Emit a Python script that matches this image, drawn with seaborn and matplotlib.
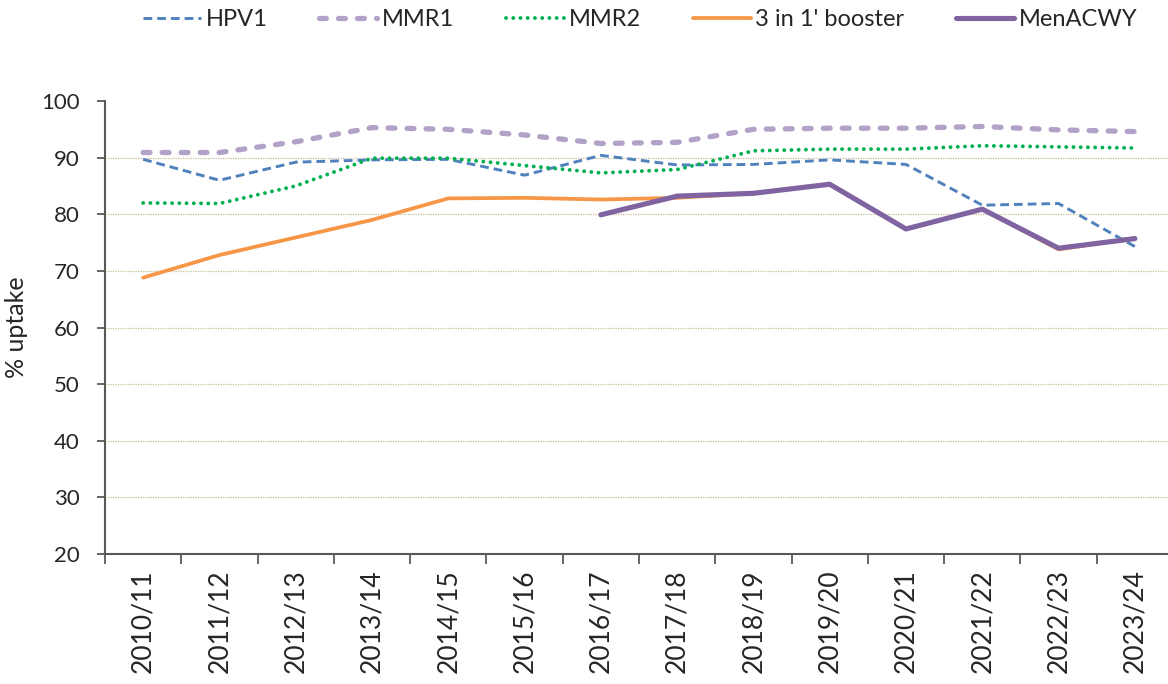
import numpy as np
import pandas as pd
import matplotlib
matplotlib.use("Agg")
import matplotlib.pyplot as plt
import seaborn as sns

years = ["2010/11", "2011/12", "2012/13", "2013/14", "2014/15", "2015/16", "2016/17",
         "2017/18", "2018/19", "2019/20", "2020/21", "2021/22", "2022/23", "2023/24"]
hpv1 = [89.7, 86.0, 89.2, 89.6, 89.7, 86.9, 90.4, 88.7, 88.8, 89.6, 88.8, 81.6, 81.9, 74.3]
mmr1 = [90.9, 90.9, 92.8, 95.3, 95.0, 94.0, 92.5, 92.7, 95.0, 95.2, 95.2, 95.5, 94.9, 94.6]
mmr2 = [82.0, 81.9, 85.0, 89.9, 89.9, 88.6, 87.3, 87.9, 91.2, 91.5, 91.5, 92.1, 91.9, 91.7]
booster = [68.8, 72.8, 75.9, 79.0, 82.8, 82.9, 82.6, 82.9, 83.7, 85.3, 77.4, 80.9, 73.8, 75.8]
menacwy = [np.nan, np.nan, np.nan, np.nan, np.nan, np.nan, 79.9, 83.2, 83.7, 85.3, 77.4, 80.9, 74.0, 75.7]
series_names = ["HPV1", "MMR1", "MMR2", "3 in 1' booster", "MenACWY"]
y_label = "% uptake"

sns.set_theme(style="white")
plt.rcParams["font.family"] = ["Lato", "DejaVu Sans"]

fig = plt.figure(figsize=(11.68, 6.84), dpi=100)
ax = fig.add_axes([105 / 1168, 1 - 554 / 684, 1068 / 1168, 453 / 684])

x = np.arange(len(years))
styles = [
    dict(color="#4F81BD", lw=2.1, dashes=(3.0, 1.7), cap="butt"),
    dict(color="#B3A2C7", lw=3.8, dashes=(1.3, 2.3), cap="round"),
    dict(color="#00B050", lw=2.8, dashes=(0.01, 1.85), cap="round"),
    dict(color="#F79646", lw=2.7, dashes=None, cap="round"),
    dict(color="#8064A2", lw=3.7, dashes=None, cap="round"),
]
data = [hpv1, mmr1, mmr2, booster, menacwy]
for name, vals, st in zip(series_names, data, styles):
    df = pd.DataFrame({"x": x, "y": vals}).dropna()
    sns.lineplot(data=df, x="x", y="y", ax=ax, color=st["color"], lw=st["lw"], label=name)
    line = ax.get_lines()[-1]
    if st["dashes"] is not None:
        line.set_dashes(st["dashes"])
        line.set_dash_capstyle(st["cap"])
    line.set_solid_capstyle(st["cap"])

ax.set_xlim(-0.5, len(years) - 0.5)
ax.set_ylim(20, 100)
ax.set_yticks(range(20, 101, 10))
ax.set_xticks(np.arange(-0.5, len(years), 1.0))
ax.set_xticklabels([])
ax.set_xticks(x, minor=True)
ax.set_xticklabels(years, minor=True, rotation=90, fontsize=19)
ax.tick_params(axis="x", which="major", length=7, width=1.3, color="#595959", direction="out", bottom=True)
ax.tick_params(axis="x", which="minor", length=0, pad=11, bottom=True)
ax.tick_params(axis="y", length=6, width=1.3, color="#595959", direction="out", left=True, labelsize=16, pad=12)
ax.set_xlabel("")
ax.set_ylabel(y_label, fontsize=18, labelpad=4)
ax.yaxis.set_label_coords(-77 / 1068, 0.5)

for v in range(30, 100, 10):
    ax.axhline(v, color="#C4BD97", lw=0.9, ls=(0, (1, 1)), zorder=0)

for s in ["top", "right"]:
    ax.spines[s].set_visible(False)
for s in ["left", "bottom"]:
    ax.spines[s].set_color("#595959")
    ax.spines[s].set_linewidth(1.5)

ax.get_legend().remove()
handles = ax.get_lines()[:5]
fig.legend(handles, series_names, loc="center left", bbox_to_anchor=(143 / 1168, 1 - 20 / 684), ncol=5,
           frameon=False, fontsize=17, handlelength=2.45, columnspacing=2.2, handletextpad=0.2,
           borderpad=0, borderaxespad=0)

fig.savefig("out.png", dpi=100)
